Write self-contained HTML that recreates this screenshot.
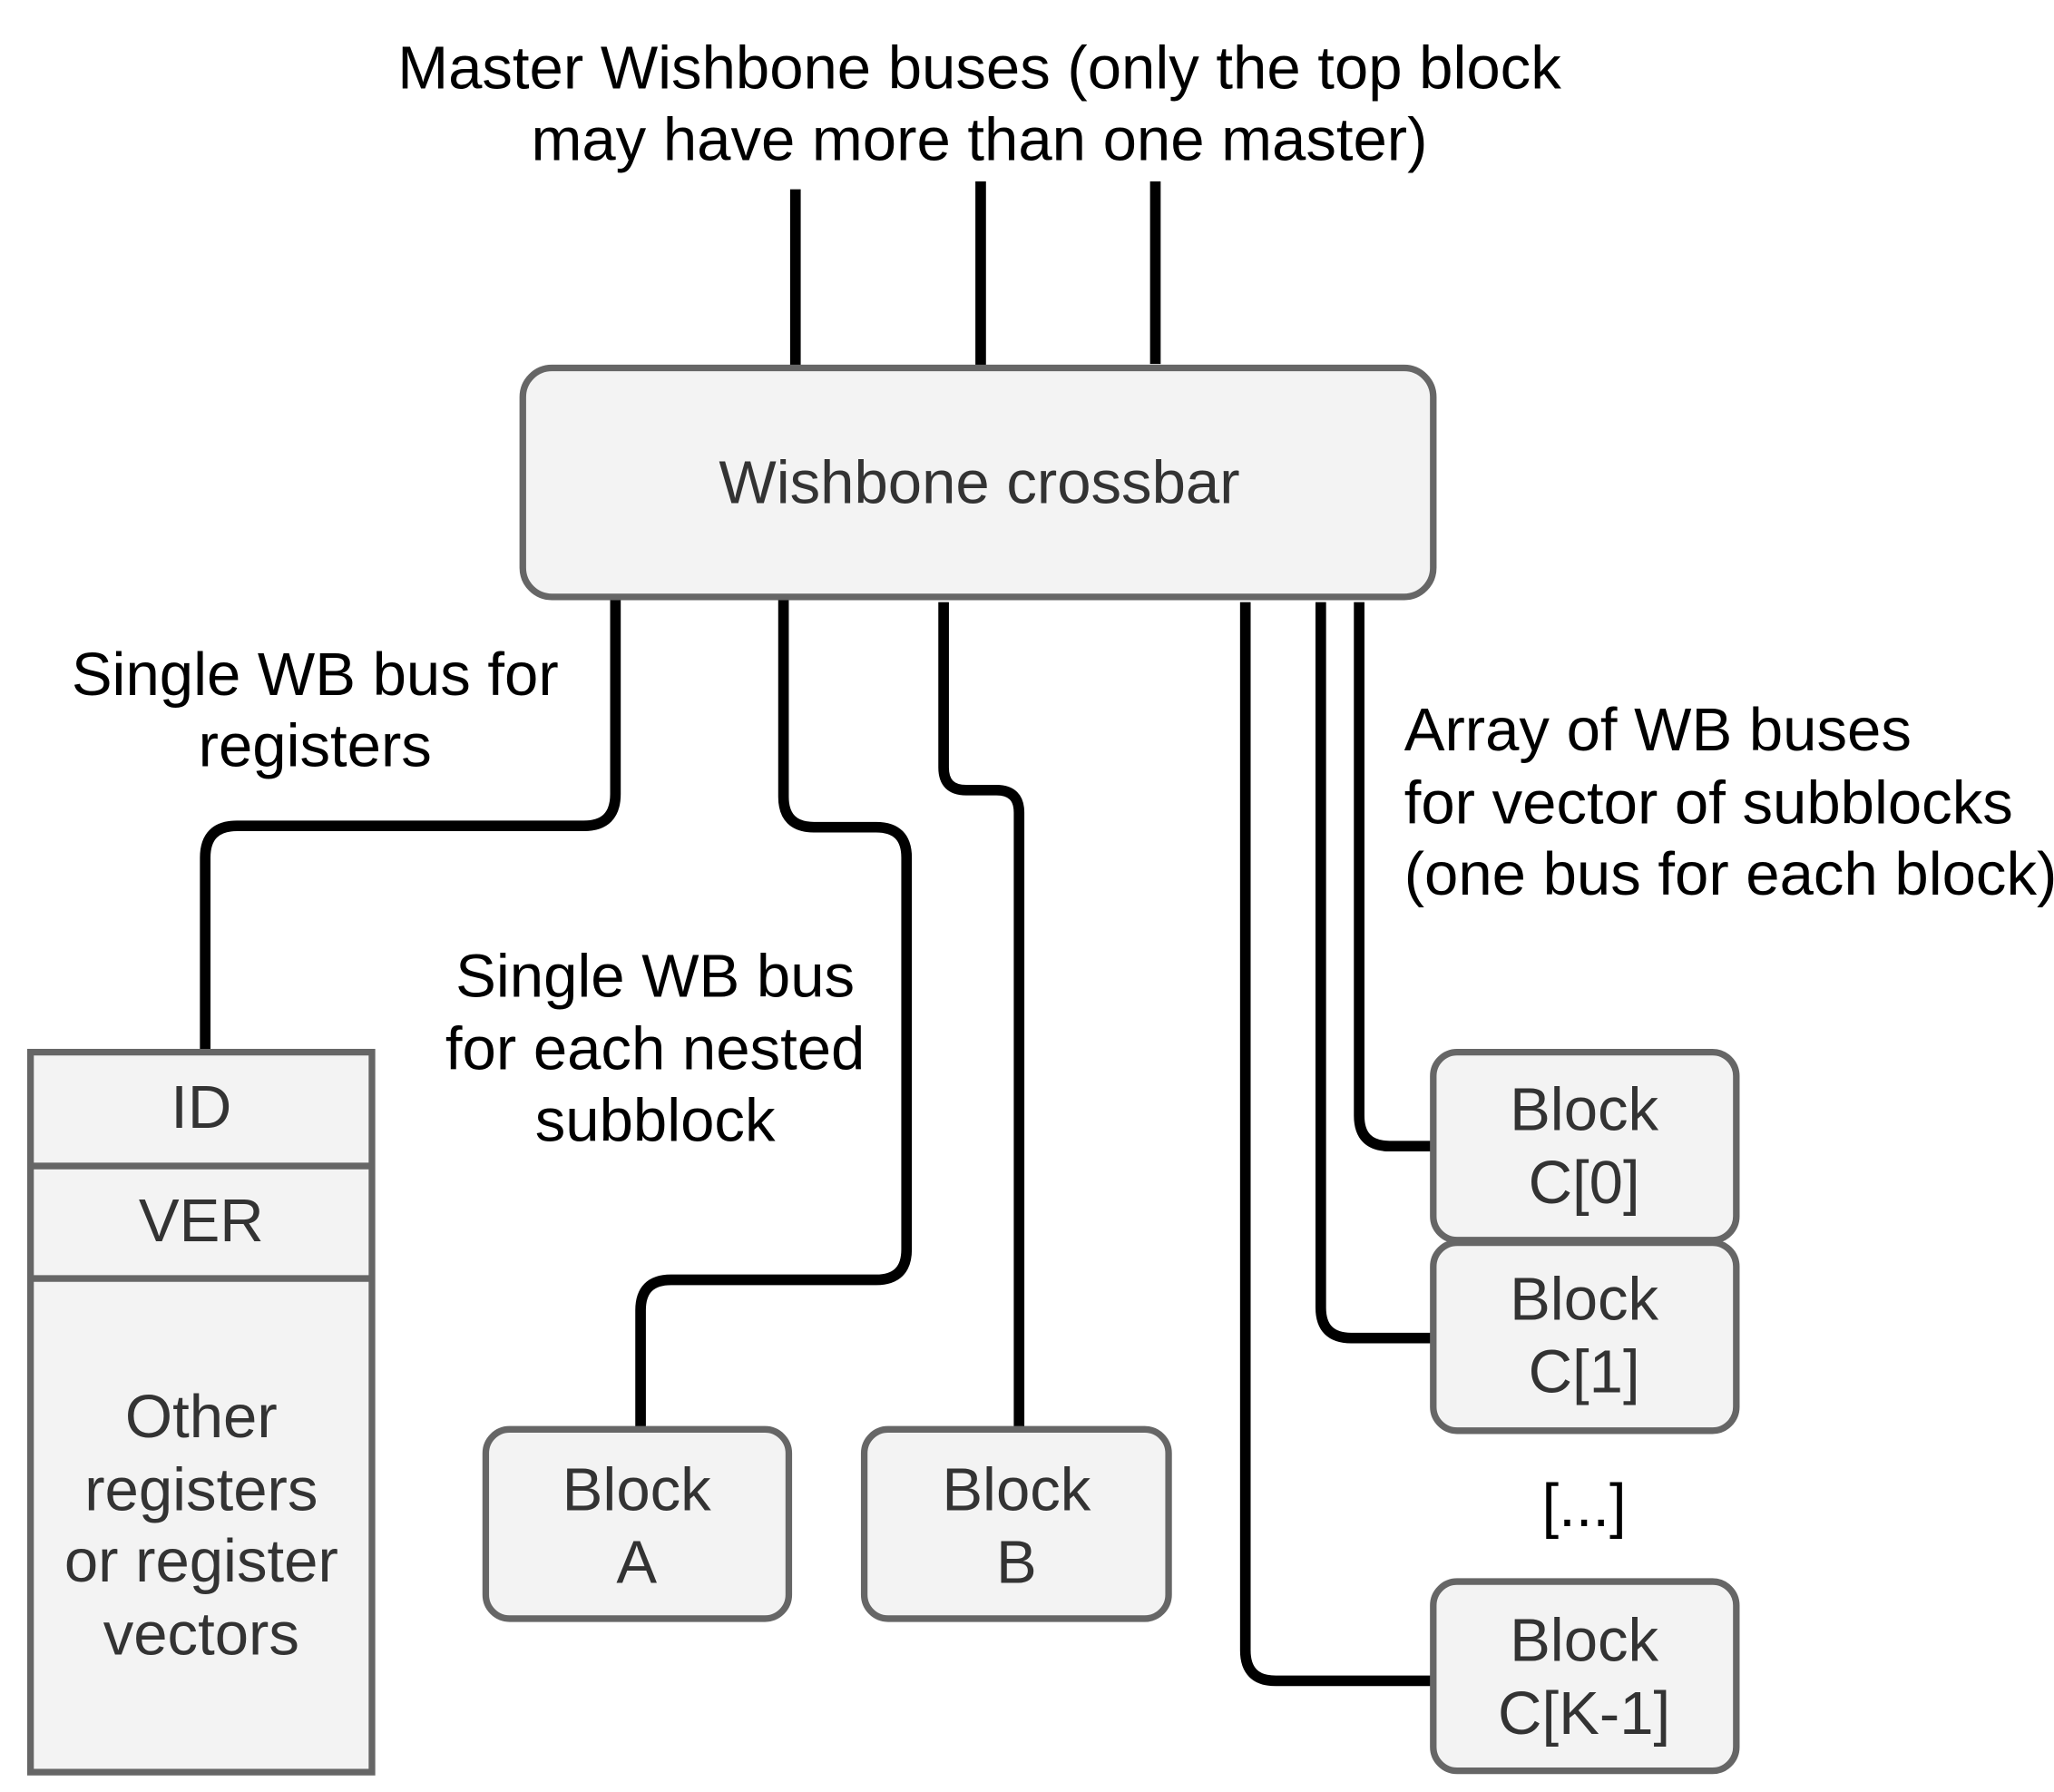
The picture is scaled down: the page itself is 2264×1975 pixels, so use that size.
<!DOCTYPE html>
<html><head><meta charset="utf-8"><style>
html,body{margin:0;padding:0;background:#fff;}
svg{display:block;}
svg text{font-family:"Liberation Sans",Arial,Helvetica,sans-serif;}
</style></head><body>
<svg width="2264" height="1975" viewBox="0 0 1552 1354" xmlns="http://www.w3.org/2000/svg" font-family="Liberation Sans, Arial, sans-serif">
<g font-size="46" fill="#000" text-anchor="middle">
<text x="740" y="67">Master Wishbone buses (only the top block</text>
<text x="740" y="121">may have more than one master)</text>
<text x="238" y="525">Single WB bus for</text>
<text x="238" y="579">registers</text>
<text x="495" y="753">Single WB bus</text>
<text x="495" y="808">for each nested</text>
<text x="495" y="862">subblock</text>
<text x="1197" y="1153">[...]</text>
</g>
<g font-size="46" fill="#000">
<text x="1061" y="567">Array of WB buses</text>
<text x="1061" y="622">for vector of subblocks</text>
<text x="1061" y="676">(one bus for each block)</text>
</g>
<g stroke="#000" stroke-width="8" fill="none" stroke-linejoin="round">
<line x1="601" y1="143" x2="601" y2="280"/>
<line x1="741" y1="137" x2="741" y2="280"/>
<line x1="873" y1="137" x2="873" y2="275"/>
<path d="M465 451 V600 Q465 624 441 624 H179 Q155 624 155 648 V795"/>
<path d="M592 451 V602 Q592 625 615 625 H662 Q685 625 685 648 V944 Q685 967 662 967 H507 Q484 967 484 990 V1080"/>
<path d="M713 455 V580 Q713 597 730 597 H753 Q770 597 770 614 V1080"/>
<path d="M941 455 V1247 Q941 1270 964 1270 H1083"/>
<path d="M998 455 V988 Q998 1011 1021 1011 H1083"/>
<path d="M1027 455 V843 Q1027 866 1050 866 H1083"/>
</g>
<g stroke="#666" stroke-width="5" fill="#f3f3f3">
<rect x="395" y="278" width="688" height="173" rx="22"/>
<rect x="23" y="795" width="258" height="544"/>
<line x1="23" y1="881" x2="281" y2="881"/>
<line x1="23" y1="966" x2="281" y2="966"/>
<rect x="367" y="1080" width="229" height="143" rx="18"/>
<rect x="653" y="1080" width="230" height="143" rx="18"/>
<rect x="1083" y="795" width="229" height="142" rx="18"/>
<rect x="1083" y="939" width="229" height="142" rx="18"/>
<rect x="1083" y="1195" width="229" height="143" rx="18"/>
</g>
<g font-size="46" fill="#333" text-anchor="middle">
<text x="740" y="380">Wishbone crossbar</text>
<text x="152" y="852">ID</text>
<text x="152" y="938">VER</text>
<text x="152" y="1086">Other</text>
<text x="152" y="1141">registers</text>
<text x="152" y="1195">or register</text>
<text x="152" y="1250">vectors</text>
<text x="481" y="1141">Block</text>
<text x="481" y="1196">A</text>
<text x="768" y="1141">Block</text>
<text x="768" y="1196">B</text>
<text x="1197" y="854">Block</text>
<text x="1197" y="909">C[0]</text>
<text x="1197" y="997">Block</text>
<text x="1197" y="1052">C[1]</text>
<text x="1197" y="1255">Block</text>
<text x="1197" y="1310">C[K-1]</text>
</g>
</svg>
</body></html>
